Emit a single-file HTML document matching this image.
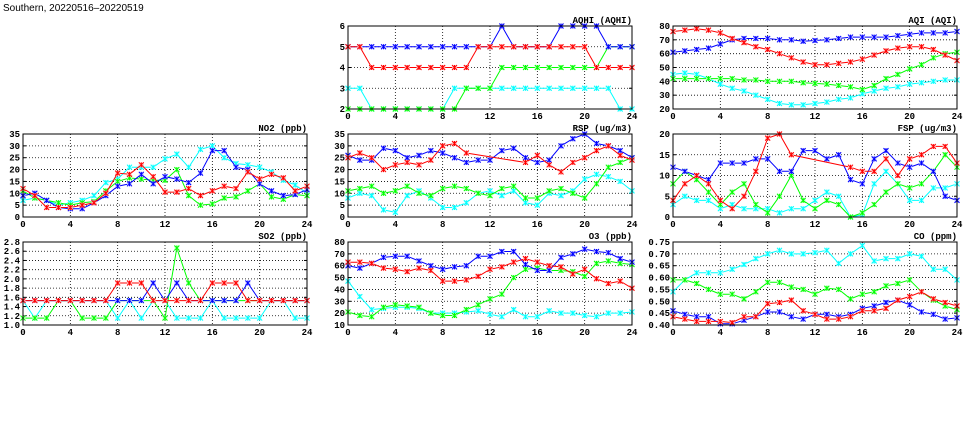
<!DOCTYPE html>
<html><head><meta charset="utf-8"><style>
body{margin:0;background:#fff;width:975px;height:447px;overflow:hidden}
svg{display:block}
text{font-family:"Liberation Mono","DejaVu Sans Mono",monospace;font-size:9px;font-weight:bold;fill:#000}
</style></head><body>
<svg id="s" width="975" height="447" xmlns="http://www.w3.org/2000/svg">
<text x="3" y="11" style="font-family:'Liberation Sans',sans-serif;font-size:10px;font-weight:normal">Southern, 20220516–20220519</text>
</svg>
<script>
var N=null;
var P=[
{t:"AQHI (AQHI)",x:348,y:26,mn:2,mx:6,st:1,f:0,d:{
c:[3,3,2,2,2,2,2,2,2,3,3,3,3,3,3,3,3,3,3,3,3,3,3,2,2],
g:[2,2,2,2,2,2,2,2,2,2,3,3,3,4,4,4,4,4,4,4,4,4,5,5,5],
b:[5,5,5,5,5,5,5,5,5,5,5,5,5,6,5,5,5,5,6,6,6,6,5,5,5],
r:[5,5,4,4,4,4,4,4,4,4,4,5,5,5,5,5,5,5,5,5,5,4,4,4,4]}},
{t:"AQI (AQI)",x:673,y:26,mn:20,mx:80,st:10,f:0,d:{
c:[45,46,45,42,38,35,33,30,27,24,23,23,24,25,27,28,31,33,35,36,38,39,40,41,41],
g:[42,42,42,42,42,42,41,41,40,40,40,39,38.5,38,37,36,34,37,42,45,49,52,57,60,61],
b:[61,62,63,64,67,70,71,71,71,70,70,69,69.5,70,71,72,72,72,72,73,74,75,75,75,76],
r:[76,77,78,77,75,71,68,65,63,60,57,54,52,52,53,54,56,59,62,64,65,65,63,59,55]}},
{t:"NO2 (ppb)",x:23,y:134,mn:0,mx:35,st:5,f:0,d:{
c:[7,8,7,5,6,7,9,14.5,16,21,21,21,24.5,26.5,21,28.5,30,25,22.5,22,21,19,15.5,13.5,10],
g:[11,8,7,6,5,6,6.5,11,15,16.5,16,15.5,15.5,20,9,5,5.5,8,8.5,11,14,8.5,7.5,9.5,9],
b:[9,10,7,4,3.5,3.5,6,9,13,14,18,14,17,16,14.5,18.5,28,28,21,20,14,11,9,9.5,11.5],
r:[12,9,4,4,4,5,6,10,18.5,18,22,17,10.5,10.5,12,9,11,13,12,19,16,18,16.5,11,13]}},
{t:"RSP (ug/m3)",x:348,y:134,mn:0,mx:35,st:5,f:0,d:{
c:[8,10,9,3,2,9,11,8,4,4,6,10,11,9,11,6,5,10,9,11,16,18,17,15,11],
g:[11,12,13,10,11,13,10,9,12,13,12,10,9,12,13,8,8,11,12,10,8,14,21,23,25],
b:[26,24,24,29,28,25,26,28,27,25,23,24,24,28,29,25,23,24,30,33,35,31,30,28,25],
r:[25,27,25,20,22,23,22,24,30,31,27,N,N,N,N,23,26,22,19,23,25,28,30,26,24]}},
{t:"FSP (ug/m3)",x:673,y:134,mn:0,mx:20,st:5,f:0,d:{
c:[3,5,4,4,2,3,2,2,2,1,2,2,4,6,5,0,0.5,8,11,8,4,4,7,7,8],
g:[8,11,9,6,3,6,8,3,1,5,10,4,2,4,3,0,1,3,6,8,7,8,11,15,12],
b:[12,11,10,9,13,13,13,14,14,11,11,16,16,14,15,9,8,14,16,13,12,13,11,5,4],
r:[4,8,10,8,4,2,5,11,19,20,15,N,N,N,N,12,11,11,14,10,14,15,17,17,13]}},
{t:"SO2 (ppb)",x:23,y:242,mn:1.0,mx:2.8,st:0.2,f:1,d:{
c:[1.53,1.15,1.53,1.53,1.53,1.53,1.53,1.53,1.15,1.53,1.15,1.53,1.53,1.15,1.15,1.15,1.53,1.15,1.15,1.15,1.15,1.53,1.53,1.15,1.15],
g:[1.15,1.15,1.15,1.53,1.53,1.15,1.15,1.15,1.53,1.53,1.53,1.53,1.15,2.67,1.91,1.53,1.53,1.53,1.53,1.53,1.53,1.53,1.53,1.53,1.53],
b:[1.53,1.53,1.53,1.53,1.53,1.53,1.53,1.53,1.53,1.53,1.53,1.91,1.53,1.91,1.53,1.53,1.53,1.53,1.53,1.91,1.53,1.53,1.53,1.53,1.53],
r:[1.53,1.53,1.53,1.53,1.53,1.53,1.53,1.53,1.91,1.91,1.91,1.53,1.53,1.53,1.53,1.53,1.91,1.91,1.91,1.53,1.53,1.53,1.53,1.53,1.53]}},
{t:"O3 (ppb)",x:348,y:242,mn:10,mx:80,st:10,f:0,d:{
c:[47,34,23,24,25,25,24,20,20,20,21,22,19,17,23,17,17,22,20,20,18,17,20,20,21],
g:[21,18,17,25,27,26,25,20,18,18,23,27,32,36,50,57,58,56,56,55,51,62,64,62,61],
b:[60,58,62,67,68,68,64,60,57,59,60,68,68,72,72,61,56,56,67,70,74,72,71,66,63],
r:[63,63,62,58,57,55,58,56,47,47,48,51,57,59,63,66,63,60,59,53,57,49,45,47,41]}},
{t:"CO (ppm)",x:673,y:242,mn:0.40,mx:0.75,st:0.05,f:2,d:{
c:[.54,.59,.62,.62,.62,.635,.655,.68,.70,.715,.70,.70,.705,.715,.66,.70,.735,.67,.68,.68,.70,.69,.635,.635,.59],
g:[.59,.59,.575,.55,.53,.53,.51,.54,.58,.58,.56,.55,.53,.555,.55,.51,.53,.54,.565,.575,.59,.54,.505,.48,.465],
b:[.46,.445,.435,.435,.405,.405,.42,.435,.455,.455,.435,.425,.445,.445,.435,.445,.47,.48,.495,.505,.485,.455,.445,.425,.43],
r:[.435,.425,.415,.415,.415,.41,.435,.435,.49,.495,.505,.46,.445,.425,.425,.435,.46,.46,.47,.505,.52,.54,.51,.495,.48]}}
];
var W=284,H=83,col={c:"#00ffff",g:"#00ff00",b:"#0000ff",r:"#ff0000"},fill={c:"#ccffff",g:"#ccffcc",b:"#ccccff",r:"#ffcccc"};
var o="",m=2.5;
P.forEach(function(p){
 var X=function(h){return p.x+h*W/24},Y=function(v){return p.y+H-(v-p.mn)/(p.mx-p.mn)*H};
 var n=Math.round((p.mx-p.mn)/p.st);
 for(var i=0;i<=n;i++){var v=p.mn+i*p.st,y=Y(v);
  if(i>0&&i<n)o+='<line x1="'+p.x+'" x2="'+(p.x+W)+'" y1="'+y+'" y2="'+y+'" stroke="#000" stroke-width="0.8" stroke-dasharray="1,2"/>';
  o+='<line x1="'+p.x+'" x2="'+(p.x+3)+'" y1="'+y+'" y2="'+y+'" stroke="#000"/><line x1="'+(p.x+W-3)+'" x2="'+(p.x+W)+'" y1="'+y+'" y2="'+y+'" stroke="#000"/>';
  o+='<text x="'+(p.x-3)+'" y="'+(y+3)+'" text-anchor="end">'+v.toFixed(p.f)+'</text>';}
 for(var h=0;h<=24;h+=4){var x=X(h);
  if(h>0&&h<24)o+='<line x1="'+x+'" x2="'+x+'" y1="'+p.y+'" y2="'+(p.y+H)+'" stroke="#000" stroke-width="0.8" stroke-dasharray="1,2"/>';
  o+='<text x="'+x+'" y="'+(p.y+H+10)+'" text-anchor="middle">'+h+'</text>';}
 o+='<text x="'+(p.x+W)+'" y="'+(p.y-3)+'" text-anchor="end">'+p.t+'</text>';
 ["c","g","b","r"].forEach(function(k){var a=p.d[k],pts=[];
  a.forEach(function(v,i){if(v!==null)pts.push(X(i).toFixed(1)+","+Y(v).toFixed(1))});
  o+='<polyline points="'+pts.join(" ")+'" fill="none" stroke="'+col[k]+'" stroke-width="1"/>';
  a.forEach(function(v,i){if(v===null)return;var x=X(i),y=Y(v);
   o+='<rect x="'+(x-m)+'" y="'+(y-m)+'" width="'+(2*m)+'" height="'+(2*m)+'" fill="'+fill[k]+'" opacity="0.8"/>';
   o+='<path d="M'+(x-m)+' '+(y-m)+'L'+(x+m)+' '+(y+m)+'M'+(x-m)+' '+(y+m)+'L'+(x+m)+' '+(y-m)+'M'+x+' '+(y-m)+'V'+(y+m)+'" stroke="'+col[k]+'" stroke-width="1"/>';});
 });
 o+='<rect x="'+p.x+'" y="'+p.y+'" width="'+W+'" height="'+H+'" fill="none" stroke="#000" stroke-width="1"/>';
});
document.getElementById("s").insertAdjacentHTML("beforeend",o);
</script>
</body></html>
